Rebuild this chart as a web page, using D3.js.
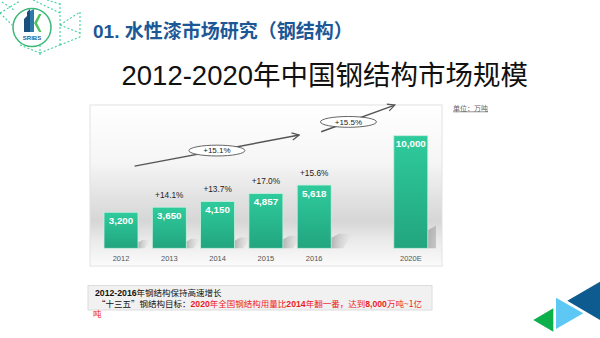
<!DOCTYPE html>
<html><head><meta charset="utf-8">
<script src="https://cdn.jsdelivr.net/npm/d3@7"></script>
<style>body{margin:0;background:#fff;} svg{display:block}</style>
</head><body><svg id="c" width="600" height="338"></svg>
<script>
// ---- data ----
const categories = ["2012","2013","2014","2015","2016","2020E"];
const values = [3200,3650,4150,4857,5618,10000];
const valueLabels = ["3,200","3,650","4,150","4,857","5,618","10,000"];
const growthLabels = ["","+14.1%","+13.7%","+17.0%","+15.6%",""];
const cagrLabels = ["+15.1%","+15.5%"];
const cagrFromCat = ["2012","2016"];
const cagrToCat = ["2016","2020E"];
const cagrFromValue = [7300, 10350];
const cagrToValue = [10060, 12720];
const titleText = "2012-2020年中国钢结构市场规模";
const headerText = "01. 水性漆市场研究（钢结构）";
const unitText = "单位：万吨";

const LAT = "'Liberation Sans', Arial, 'Noto Sans CJK SC', sans-serif";
const CJK = "'Noto Sans CJK SC', 'Liberation Sans', sans-serif";

const svg = d3.select("#c");
const defs = svg.append("defs");

// gradients
const bg = defs.append("linearGradient").attr("id","bg").attr("x1",0).attr("y1",0).attr("x2",0).attr("y2",1);
[[0,"#ffffff"],[0.35,"#f6f6f6"],[0.6,"#e0e0e0"],[0.72,"#d6d6d6"],[0.84,"#eaeaea"],[1,"#fbfbfb"]]
  .forEach(s=>bg.append("stop").attr("offset",s[0]).attr("stop-color",s[1]));
const bar = defs.append("linearGradient").attr("id","bar").attr("x1",0).attr("y1",0).attr("x2",0).attr("y2",1);
[[0,"#2fcb9c"],[1,"#22a57f"]].forEach(s=>bar.append("stop").attr("offset",s[0]).attr("stop-color",s[1]));
const sh = defs.append("linearGradient").attr("id","sh").attr("x1",0).attr("y1",0).attr("x2",1).attr("y2",0);
sh.append("stop").attr("offset",0).attr("stop-color","#9a9a9a").attr("stop-opacity",0.7);
sh.append("stop").attr("offset",1).attr("stop-color","#cfcfcf").attr("stop-opacity",0);
defs.append("clipPath").attr("id","panelClip").append("rect").attr("x",90).attr("y",105).attr("width",346).attr("height",161);
defs.append("marker").attr("id","ah").attr("viewBox","0 0 10 10").attr("refX",9).attr("refY",5)
  .attr("markerWidth",9).attr("markerHeight",9).attr("markerUnits","userSpaceOnUse").attr("orient","auto")
  .append("path").attr("d","M1,1 L9,5 L1,9").attr("fill","none").attr("stroke","#555").attr("stroke-width",1.4);

// ---- decorative header ----
const deco = svg.append("g").attr("stroke","#3fd19a").attr("stroke-width",1.1).attr("stroke-dasharray","2,2").attr("fill","none");
[[[0,13],[20,1]],[[33,0],[60,13]],[[47,0],[60,4]],[[60,3],[60,45]],[[60,25],[80,12]],[[60,25],[80,33]],
 [[80,12],[80,37]],[[60,45],[80,37]],[[20,45],[40,53]],[[40,33],[40,57]],[[40,53],[60,45]],[[0,13],[12,25]],[[2,2],[14,10]]]
 .forEach(p=>deco.append("line").attr("x1",p[0][0]).attr("y1",p[0][1]).attr("x2",p[1][0]).attr("y2",p[1][1]));

// logo
const logo = svg.append("g");
logo.append("circle").attr("cx",32).attr("cy",27.5).attr("r",19).attr("fill","#fff").attr("stroke","#3cb878").attr("stroke-width",1.5);
logo.append("polygon").attr("points","24,32 24,19 27,16 27,12 30,9 30,32").attr("fill","#1c4f7c");
logo.append("polygon").attr("points","30,11 34,9 34,32 30,32").attr("fill","#2d79a8");
logo.append("polygon").attr("points","34,23 39,14 41.5,14 37,23 41.5,32 39,32").attr("fill","#4fc15d");
logo.append("text").attr("x",32).attr("y",39.5).attr("text-anchor","middle").attr("font-family",LAT)
  .attr("font-weight","bold").attr("font-size",6).attr("fill","#1c5a8e").text("SRIBS");

// header
svg.append("text").attr("x",93).attr("y",37.5).attr("font-family",LAT).attr("font-weight","bold")
  .attr("font-size",19).attr("fill","#1c5796").text(headerText);

// title
svg.append("text").attr("x",121.5).attr("y",85).attr("font-family",LAT)
  .attr("font-size",27.5).attr("fill","#111").text(titleText);

// ---- chart panel ----
svg.append("rect").attr("x",90).attr("y",105).attr("width",352).attr("height",161)
  .attr("fill","url(#bg)").attr("stroke","#e2e2e2").attr("stroke-width",1);

const slots = [...categories.slice(0,5), "gap", categories[5]];
const x = d3.scaleBand().domain(slots).range([104, 427.8]).paddingInner(0.296).paddingOuter(0);
const y = d3.scaleLinear().domain([0, d3.max(values)]).range([248.3, 135.7]);
const bw = x.bandwidth();
const data = categories.map((c,i)=>({c, v:values[i], lab:valueLabels[i], g:growthLabels[i]}));

// shadows
svg.append("g").attr("clip-path","url(#panelClip)").selectAll("polygon").data(data).join("polygon")
  .attr("points", d=>{
    const x1 = x(d.c)+bw, b = y(0), h = y(0)-y(d.v);
    const hs = 0.23*h, ws = 0.34*h;
    return [[x1,b],[x1,b-hs*0.7],[x1+ws*0.35,b-hs],[x1+ws,b-hs],[x1+ws*0.55,b]].map(p=>p.join(",")).join(" ");
  })
  .attr("fill","url(#sh)");

// bars
svg.append("g").selectAll("rect").data(data).join("rect")
  .attr("x", d=>x(d.c)).attr("y", d=>y(d.v)).attr("width", bw).attr("height", d=>y(0)-y(d.v))
  .attr("fill","url(#bar)").attr("stroke","#c9efe0").attr("stroke-width",0.8);

// value labels
svg.append("g").selectAll("text").data(data).join("text")
  .attr("x", d=>x(d.c)+bw/2).attr("y", d=>y(d.v)+11.5).attr("text-anchor","middle")
  .attr("font-family",LAT).attr("font-weight","bold").attr("font-size",9.8).attr("fill","#fff").text(d=>d.lab);

// growth labels
svg.append("g").selectAll("text").data(data.filter(d=>d.g)).join("text")
  .attr("x", d=>x(d.c)+bw/2).attr("y", d=>y(d.v)-9.5).attr("text-anchor","middle")
  .attr("font-family",LAT).attr("font-size",8.3).attr("fill","#222").text(d=>d.g);

// x axis
const ax = svg.append("g").attr("transform",`translate(0,${y(0)})`)
  .call(d3.axisBottom(x).tickSize(0).tickPadding(7).tickFormat(d=>d==="gap"?"":d));
ax.select(".domain").remove();
ax.selectAll("text").attr("font-family",LAT).attr("font-size",7.5).attr("fill","#555");

// CAGR arrows
const arrowSpec = [
  {from:[x(cagrFromCat[0])+0.9*bw, y(cagrFromValue[0])], to:[x(cagrToCat[0])+2, y(cagrToValue[0])], t:0.5, lab:cagrLabels[0]},
  {from:[x(cagrFromCat[1])+24, y(cagrFromValue[1])], to:[x(cagrToCat[1])+1, y(cagrToValue[1])], t:0.37, lab:cagrLabels[1]}
];
const ag = svg.append("g");
arrowSpec.forEach(a=>{
  ag.append("line").attr("x1",a.from[0]).attr("y1",a.from[1]).attr("x2",a.to[0]).attr("y2",a.to[1])
    .attr("stroke","#555").attr("stroke-width",1.4).attr("marker-end","url(#ah)");
  const cx = a.from[0]+(a.to[0]-a.from[0])*a.t, cy = a.from[1]+(a.to[1]-a.from[1])*a.t;
  ag.append("ellipse").attr("cx",cx).attr("cy",cy).attr("rx",28).attr("ry",5.4)
    .attr("fill","#fff").attr("stroke","#555").attr("stroke-width",0.9);
  ag.append("text").attr("x",cx).attr("y",cy+2.8).attr("text-anchor","middle")
    .attr("font-family",LAT).attr("font-size",8).attr("fill","#222").text(a.lab);
});

// unit label
svg.append("text").attr("x",453).attr("y",110.5).attr("font-family",CJK).attr("font-size",7)
  .attr("fill","#666").attr("text-decoration","underline").text(unitText);

// ---- note box ----
svg.append("rect").attr("x",88).attr("y",285.5).attr("width",344).attr("height",24.5)
  .attr("fill","#f1f1f1").attr("stroke","#dcdcdc").attr("stroke-width",1);
const t1 = svg.append("text").attr("x",95).attr("y",295.5).attr("fill","#111");
t1.append("tspan").attr("font-family",LAT).attr("font-weight","bold").attr("font-size",8.7).text("2012-2016");
t1.append("tspan").attr("font-family",CJK).attr("font-size",8.5).text("年钢结构保持高速增长");
const t2 = svg.append("text").attr("x",97).attr("y",306.5);
const parts = [
  ["“十三五”钢结构目标：", false, "#111"],
  ["2020", true, "#ee1c1c"], ["年全国钢结构用量比", false, "#ee1c1c"],
  ["2014", true, "#ee1c1c"], ["年翻一番，达到", false, "#ee1c1c"],
  ["8,000", true, "#ee1c1c"], ["万吨~1亿", false, "#ee1c1c"]
];
parts.forEach(p=>t2.append("tspan").attr("font-family", p[1]?LAT:CJK).attr("font-weight",p[1]?"bold":"normal")
  .attr("font-size", p[1]?8.7:8.5).attr("fill",p[2]).text(p[0]));
svg.append("text").attr("x",93).attr("y",316.5).attr("font-family",CJK).attr("font-size",8.5).attr("fill","#ee1c1c").text("吨");

// ---- corner triangles ----
const tri = svg.append("g");
tri.append("polygon").attr("points","567.3,300.7 600,281.7 600,320").attr("fill","#0e5c8f");
tri.append("polygon").attr("points","556,297.7 556,329 583.3,313.3").attr("fill","#5ec8f5");
tri.append("polygon").attr("points","533.3,320 553.3,308.3 553.3,331.7").attr("fill","#0bb04b");
</script></body></html>
